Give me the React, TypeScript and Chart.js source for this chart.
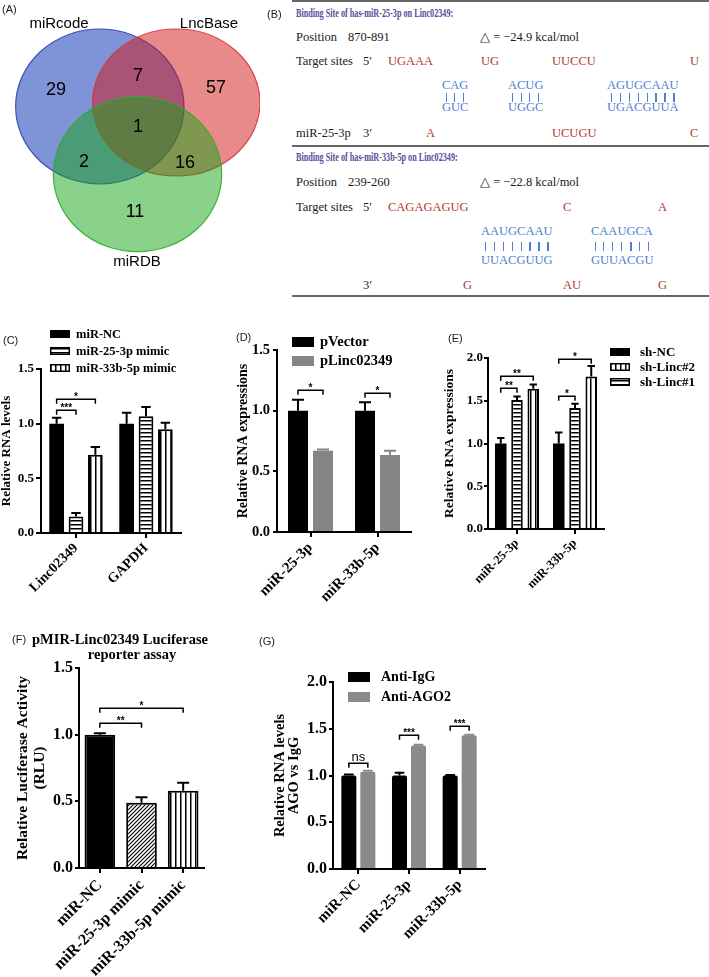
import React, { useEffect, useRef } from 'react';
import { Chart, registerables } from 'chart.js';
Chart.register(...registerables);

const SERIF = '"Liberation Serif", "Times New Roman", Times, serif';
const SANS = '"Liberation Sans", Arial, Helvetica, sans-serif';

// ---------- (A) Venn ----------
const vennSetNames = ['miRcode', 'LncBase', 'miRDB'];
const vennCenterX = [99.8, 176.3, 137.5];
const vennCenterY = [106.5, 102.5, 174.2];
const vennRadiusX = [84.2, 83.7, 84.2];
const vennRadiusY = [77.5, 73.5, 77.5];
const vennNameX = [59, 209, 137];
const vennNameY = [24, 24, 262];
const vennCounts = [29, 7, 57, 1, 2, 16, 11];
const vennCountX = [56, 138, 216, 138, 84, 185, 135];
const vennCountY = [90, 76, 88, 127, 162, 163, 212];

// ---------- (C) ----------
const cCategories = ['Linc02349', 'GAPDH'];
const cSeries = ['miR-NC', 'miR-25-3p mimic', 'miR-33b-5p mimic'];
const cNC = [1.0, 1.0];
const cNCErr = [0.055, 0.1];
const c25 = [0.152, 1.067];
const c25Err = [0.03, 0.085];
const c33 = [0.716, 0.948];
const c33Err = [0.07, 0.06];

// ---------- (D) ----------
const dCategories = ['miR-25-3p', 'miR-33b-5p'];
const dSeries = ['pVector', 'pLinc02349'];
const dVector = [1.0, 1.0];
const dVectorErr = [0.09, 0.07];
const dLinc = [0.67, 0.635];
const dLincErr = [0.01, 0.035];

// ---------- (E) ----------
const eCategories = ['miR-25-3p', 'miR-33b-5p'];
const eSeries = ['sh-NC', 'sh-Linc#1', 'sh-Linc#2'];
const eNC = [1.0, 1.0];
const eNCErr = [0.065, 0.13];
const eLinc1 = [1.51, 1.415];
const eLinc1Err = [0.04, 0.05];
const eLinc2 = [1.64, 1.785];
const eLinc2Err = [0.05, 0.12];

// ---------- (F) ----------
const fCategories = ['miR-NC', 'miR-25-3p mimic', 'miR-33b-5p mimic'];
const fValues = [1.0, 0.49, 0.58];
const fErr = [0.01, 0.04, 0.06];

// ---------- (G) ----------
const gCategories = ['miR-NC', 'miR-25-3p', 'miR-33b-5p'];
const gSeries = ['Anti-IgG', 'Anti-AGO2'];
const gIgG = [1.0, 1.0, 1.0];
const gIgGErr = [0.01, 0.03, 0.005];
const gAGO2 = [1.04, 1.32, 1.43];
const gAGO2Err = [0.01, 0.01, 0.005];

// significance brackets: [dataset, category] -> [dataset, category] at value y
const cBrackets = [
  { from: [0, 0], to: [2, 0], y: 1.225, label: '*' },
  { from: [0, 0], to: [1, 0], y: 1.124, label: '***' },
];
const dBrackets = [
  { from: [0, 0], to: [1, 0], y: 1.17, label: '*' },
  { from: [0, 1], to: [1, 1], y: 1.145, label: '*' },
];
const eBrackets = [
  { from: [0, 0], to: [2, 0], y: 1.79, label: '**' },
  { from: [0, 0], to: [1, 0], y: 1.654, label: '**' },
  { from: [0, 1], to: [2, 1], y: 1.99, label: '*' },
  { from: [0, 1], to: [1, 1], y: 1.56, label: '*' },
];
const fBrackets = [
  { from: [0, 0], to: [0, 2], y: 1.2, label: '*' },
  { from: [0, 0], to: [0, 1], y: 1.09, label: '**' },
];
const gBrackets = [
  { from: [0, 0], to: [1, 0], y: 1.134, label: 'ns' },
  { from: [0, 1], to: [1, 1], y: 1.43, label: '***' },
  { from: [0, 2], to: [1, 2], y: 1.53, label: '***' },
];

type DS = { label: string; data: number[]; errors: number[]; fill: string | string[]; border: number; errColor: string; radius?: number };
type Spec = {
  box: { x: number; y: number; w: number; h: number };
  area: { l: number; t: number; r: number; b: number };
  labels: string[];
  datasets: DS[];
  yMax: number; yStep: number;
  yTitle: string | string[]; yTitleSize: number; yTitleLH: number; yTitlePad: number;
  tickSize: number; tickLen: number; tickPad: number;
  xSize: number; xPad: number;
  catPct: number; barPct: number;
  brackets: { from: number[]; to: number[]; y: number; label: string }[];
  starSize: number;
  legend?: { x: number; y: number[]; w: number; h: number; gap: number; size: number; order: number[] };
};

const GRAY_D = '#858585';
const GRAY_G = '#8a8a8a';

const specC: Spec = {
  box: { x: 0, y: 320, w: 236, h: 300 },
  area: { l: 41, t: 369, r: 181, b: 533 },
  labels: cCategories,
  datasets: [
    { label: cSeries[0], data: cNC, errors: cNCErr, fill: 'black', border: 0, errColor: '#000' },
    { label: cSeries[1], data: c25, errors: c25Err, fill: 'hstripe', border: 2, errColor: '#000' },
    { label: cSeries[2], data: c33, errors: c33Err, fill: 'vstripe', border: 2, errColor: '#000' },
  ],
  yMax: 1.5, yStep: 0.5,
  yTitle: 'Relative RNA levels', yTitleSize: 13, yTitleLH: 1, yTitlePad: 0.5,
  tickSize: 13, tickLen: 5, tickPad: 2,
  xSize: 14, xPad: 2,
  catPct: 0.83, barPct: 0.76,
  brackets: cBrackets, starSize: 10,
  legend: { x: 50, y: [334, 351, 368], w: 20, h: 8, gap: 6, size: 12.5, order: [0, 1, 2] },
};

const specD: Spec = {
  box: { x: 236, y: 320, w: 230, h: 300 },
  area: { l: 277, t: 350, r: 411, b: 532 },
  labels: dCategories,
  datasets: [
    { label: dSeries[0], data: dVector, errors: dVectorErr, fill: 'black', border: 0, errColor: '#000' },
    { label: dSeries[1], data: dLinc, errors: dLincErr, fill: 'grayD', border: 0, errColor: GRAY_D },
  ],
  yMax: 1.5, yStep: 0.5,
  yTitle: 'Relative RNA expressions', yTitleSize: 14, yTitleLH: 1, yTitlePad: 0,
  tickSize: 14.5, tickLen: 4, tickPad: 3,
  xSize: 15, xPad: 2,
  catPct: 0.746, barPct: 0.8,
  brackets: dBrackets, starSize: 10,
  legend: { x: 292, y: [342, 361], w: 22, h: 10, gap: 6, size: 14.5, order: [0, 1] },
};

const specE: Spec = {
  box: { x: 440, y: 320, w: 269, h: 300 },
  area: { l: 488, t: 358, r: 604, b: 529 },
  labels: eCategories,
  datasets: [
    { label: eSeries[0], data: eNC, errors: eNCErr, fill: 'black', border: 0, errColor: '#000' },
    { label: eSeries[1], data: eLinc1, errors: eLinc1Err, fill: 'hstripe', border: 2, errColor: '#000' },
    { label: eSeries[2], data: eLinc2, errors: eLinc2Err, fill: 'vstripe', border: 2, errColor: '#000' },
  ],
  yMax: 2.0, yStep: 0.5,
  yTitle: 'Relative RNA expressions', yTitleSize: 13.5, yTitleLH: 1, yTitlePad: 3.25,
  tickSize: 13, tickLen: 4, tickPad: 1,
  xSize: 12.5, xPad: 2,
  catPct: 0.84, barPct: 0.71,
  brackets: eBrackets, starSize: 10,
  legend: { x: 610, y: [352, 367, 382], w: 20, h: 8, gap: 10, size: 13, order: [0, 2, 1] },
};

const specF: Spec = {
  box: { x: 0, y: 630, w: 290, h: 347 },
  area: { l: 79, t: 668, r: 204, b: 868 },
  labels: fCategories,
  datasets: [
    { label: 'Luciferase', data: fValues, errors: fErr, fill: ['black', 'diag', 'vstripe'], border: 2, errColor: '#000' },
  ],
  yMax: 1.5, yStep: 0.5,
  yTitle: ['Relative Luciferase Activity', '(RLU)'], yTitleSize: 15.5, yTitleLH: 1.1, yTitlePad: 14.5,
  tickSize: 16, tickLen: 4, tickPad: 2,
  xSize: 16, xPad: 3,
  catPct: 1.0, barPct: 0.735,
  brackets: fBrackets, starSize: 10,
};

const specG: Spec = {
  box: { x: 262, y: 630, w: 300, h: 347 },
  area: { l: 333, t: 682, r: 485, b: 869 },
  labels: gCategories,
  datasets: [
    { label: gSeries[0], data: gIgG, errors: gIgGErr, fill: 'black', border: 0, errColor: '#000', radius: 2 },
    { label: gSeries[1], data: gAGO2, errors: gAGO2Err, fill: 'grayG', border: 0, errColor: GRAY_G, radius: 2 },
  ],
  yMax: 2.0, yStep: 0.5,
  yTitle: ['Relative RNA levels', 'AGO vs IgG'], yTitleSize: 14.5, yTitleLH: 1, yTitlePad: 10.75,
  tickSize: 16, tickLen: 4, tickPad: 2,
  xSize: 15, xPad: 2,
  catPct: 0.75, barPct: 0.79,
  brackets: gBrackets, starSize: 10,
  legend: { x: 348, y: [677, 697], w: 22, h: 10, gap: 11, size: 14, order: [0, 1] },
};

const barSpecs = [specC, specD, specE, specF, specG];

function makePatterns(): Record<string, any> {
  const mk = (w: number, h: number, draw: (x: CanvasRenderingContext2D) => void) => {
    const c = document.createElement('canvas');
    c.width = w; c.height = h;
    const x = c.getContext('2d')!;
    x.fillStyle = '#fff'; x.fillRect(0, 0, w, h);
    x.fillStyle = '#000'; x.strokeStyle = '#000';
    draw(x);
    return x.createPattern(c, 'repeat');
  };
  return {
    black: '#000',
    grayD: GRAY_D,
    grayG: GRAY_G,
    hstripe: mk(4, 4, (x) => x.fillRect(0, 0, 4, 1.5)),
    vstripe: mk(5, 5, (x) => x.fillRect(0, 0, 1.5, 5)),
    diag: mk(4, 4, (x) => {
      x.lineWidth = 1.1;
      x.beginPath();
      x.moveTo(-1, 5); x.lineTo(5, -1);
      x.moveTo(-1, 1); x.lineTo(1, -1);
      x.moveTo(3, 5); x.lineTo(5, 3);
      x.stroke();
    }),
  };
}

function createBarChart(canvas: HTMLCanvasElement, s: Spec) {
  const pats = makePatterns();
  const fillOf = (k: string) => pats[k];
  const bx = s.box;
  const padTop = s.area.t - bx.y;
  const padRight = bx.x + bx.w - s.area.r;
  const yW = s.area.l - bx.x;
  const xH = bx.y + bx.h - s.area.b;
  const serifBold = (size: number, lh = 1.2) => ({ family: SERIF, weight: 'bold' as const, size, lineHeight: lh });

  const extras = {
    id: 'extras',
    afterDatasetsDraw(chart: any) {
      const ctx: CanvasRenderingContext2D = chart.ctx;
      const y = chart.scales.y;
      ctx.save();
      // error bars (upper only)
      s.datasets.forEach((ds, i) => {
        const meta = chart.getDatasetMeta(i);
        meta.data.forEach((el: any, j: number) => {
          const v = ds.data[j];
          const e = ds.errors[j];
          const py = y.getPixelForValue(v);
          const pt = y.getPixelForValue(v + e);
          const half = Math.min(6, el.width * 0.32);
          ctx.strokeStyle = ds.errColor;
          ctx.lineWidth = 2;
          ctx.beginPath();
          ctx.moveTo(el.x, py); ctx.lineTo(el.x, pt);
          ctx.moveTo(el.x - half, pt); ctx.lineTo(el.x + half, pt);
          ctx.stroke();
        });
      });
      // brackets
      s.brackets.forEach((b) => {
        const xa = chart.getDatasetMeta(b.from[0]).data[b.from[1]].x;
        const xb = chart.getDatasetMeta(b.to[0]).data[b.to[1]].x;
        const py = Math.round(y.getPixelForValue(b.y)) + 0.25;
        ctx.strokeStyle = '#000';
        ctx.lineWidth = 1.5;
        ctx.beginPath();
        ctx.moveTo(xa, py + 4.5); ctx.lineTo(xa, py); ctx.lineTo(xb, py); ctx.lineTo(xb, py + 4.5);
        ctx.stroke();
        ctx.fillStyle = '#000';
        ctx.textAlign = 'center';
        ctx.textBaseline = 'alphabetic';
        const mid = (xa + xb) / 2;
        if (b.label === 'ns') {
          ctx.font = `13px ${SANS}`;
          ctx.fillText(b.label, mid, py - 2.5);
        } else {
          ctx.font = `bold ${s.starSize}px ${SANS}`;
          ctx.fillText(b.label, mid, py + 1);
        }
      });
      // legend
      if (s.legend) {
        const L = s.legend;
        L.order.forEach((di, k) => {
          const ds = s.datasets[di];
          const lx = L.x - bx.x;
          const ly = L.y[k] - bx.y;
          const f = Array.isArray(ds.fill) ? ds.fill[0] : ds.fill;
          ctx.fillStyle = fillOf(f);
          ctx.fillRect(lx, ly - L.h / 2, L.w, L.h);
          if (ds.border) {
            ctx.strokeStyle = '#000';
            ctx.lineWidth = 1.5;
            ctx.strokeRect(lx + 0.75, ly - L.h / 2 + 0.75, L.w - 1.5, L.h - 1.5);
          }
          ctx.fillStyle = '#000';
          ctx.font = `bold ${L.size}px ${SERIF}`;
          ctx.textAlign = 'left';
          ctx.textBaseline = 'middle';
          ctx.fillText(ds.label, lx + L.w + L.gap, ly + 0.5);
        });
      }
      ctx.restore();
    },
  };

  const gridCfg = (len: number) => ({
    display: true, drawOnChartArea: false, drawTicks: true, tickLength: len,
    color: '#000', lineWidth: 2, tickColor: '#000', tickWidth: 2, offset: false,
  });

  return new Chart(canvas, {
    type: 'bar',
    data: {
      labels: s.labels,
      datasets: s.datasets.map((ds) => ({
        label: ds.label,
        data: ds.data,
        backgroundColor: Array.isArray(ds.fill) ? ds.fill.map(fillOf) : fillOf(ds.fill),
        borderColor: '#000',
        borderWidth: ds.border,
        borderSkipped: 'start',
        borderRadius: ds.radius ?? 0,
        categoryPercentage: s.catPct,
        barPercentage: s.barPct,
      })) as any,
    },
    options: {
      responsive: false,
      animation: false,
      devicePixelRatio: 1,
      events: [],
      layout: { padding: { top: padTop, right: padRight, left: 0, bottom: 0 } },
      plugins: { legend: { display: false }, tooltip: { enabled: false }, title: { display: false } },
      scales: {
        x: {
          type: 'category',
          offset: true,
          grid: gridCfg(5) as any,
          border: { display: true, color: '#000', width: 2 },
          ticks: { color: '#000', font: serifBold(s.xSize), minRotation: 45, maxRotation: 45, autoSkip: false, padding: s.xPad },
          afterFit: (sc: any) => { sc.height = xH; sc.paddingLeft = 0; sc.paddingRight = 0; },
        },
        y: {
          type: 'linear',
          min: 0,
          max: s.yMax,
          grid: gridCfg(s.tickLen) as any,
          border: { display: true, color: '#000', width: 2 },
          ticks: {
            stepSize: s.yStep, color: '#000', font: serifBold(s.tickSize), padding: s.tickPad,
            callback: (v: any) => Number(v).toFixed(1),
          },
          title: {
            display: true, text: s.yTitle as any, color: '#000',
            font: serifBold(s.yTitleSize, s.yTitleLH),
            padding: { top: s.yTitlePad, bottom: 0 },
          },
          afterFit: (sc: any) => { sc.width = yW; sc.paddingTop = 0; sc.paddingBottom = 0; },
        },
      },
    },
    plugins: [extras],
  });
}

function BarPanel({ spec }: { spec: Spec }) {
  const ref = useRef<HTMLCanvasElement>(null);
  useEffect(() => {
    const chart = createBarChart(ref.current!, spec);
    return () => chart.destroy();
  }, [spec]);
  return (
    <canvas
      ref={ref}
      width={spec.box.w}
      height={spec.box.h}
      style={{ position: 'absolute', left: spec.box.x, top: spec.box.y, width: spec.box.w, height: spec.box.h }}
    />
  );
}

function VennPanel() {
  const ref = useRef<HTMLCanvasElement>(null);
  useEffect(() => {
    const fills = ['rgba(0,40,175,0.5)', 'rgba(212,22,22,0.5)', 'rgba(22,165,22,0.5)'];
    const strokes = ['rgba(45,65,190,0.9)', 'rgba(215,50,60,0.9)', 'rgba(50,170,50,0.9)'];
    const venn = {
      id: 'venn',
      beforeDatasetsDraw(chart: any) {
        const { ctx, scales } = chart;
        const x = scales.x, y = scales.y;
        ctx.save();
        vennSetNames.forEach((_, i) => {
          const cx = x.getPixelForValue(vennCenterX[i]);
          const cy = y.getPixelForValue(vennCenterY[i]);
          const rx = Math.abs(x.getPixelForValue(vennCenterX[i] + vennRadiusX[i]) - cx);
          const ry = Math.abs(y.getPixelForValue(vennCenterY[i] + vennRadiusY[i]) - cy);
          ctx.beginPath();
          ctx.ellipse(cx, cy, rx, ry, 0, 0, Math.PI * 2);
          ctx.fillStyle = fills[i];
          ctx.fill();
          ctx.strokeStyle = strokes[i];
          ctx.lineWidth = 1.2;
          ctx.stroke();
        });
        ctx.fillStyle = '#000';
        ctx.textAlign = 'center';
        ctx.textBaseline = 'middle';
        ctx.font = `18px ${SANS}`;
        vennCounts.forEach((n, i) => {
          ctx.fillText(String(n), x.getPixelForValue(vennCountX[i]), y.getPixelForValue(vennCountY[i]));
        });
        ctx.font = `15px ${SANS}`;
        vennSetNames.forEach((nm, i) => {
          ctx.fillText(nm, x.getPixelForValue(vennNameX[i]), y.getPixelForValue(vennNameY[i]));
        });
        ctx.restore();
      },
    };
    const chart = new Chart(ref.current!, {
      type: 'scatter',
      data: { datasets: [{ data: vennCenterX.map((cx, i) => ({ x: cx, y: vennCenterY[i] })), pointRadius: 0 }] },
      options: {
        responsive: false, animation: false, devicePixelRatio: 1, events: [],
        layout: { padding: 0 },
        plugins: { legend: { display: false }, tooltip: { enabled: false } },
        scales: {
          x: { type: 'linear', min: 0, max: 260, display: false },
          y: { type: 'linear', min: 0, max: 290, reverse: true, display: false },
        },
      },
      plugins: [venn],
    });
    return () => chart.destroy();
  }, []);
  return <canvas ref={ref} width={260} height={290} style={{ position: 'absolute', left: 0, top: 0, width: 260, height: 290 }} />;
}

// ---------- (B) text panel ----------
const RED = '#b3392f';
const BLUE = '#4b80d2';
const PURPLE = '#5a4b9c';
const INK = '#1a1a1a';

let measureCtx: CanvasRenderingContext2D | null = null;
function measure(text: string, font: string) {
  if (!measureCtx) measureCtx = document.createElement('canvas').getContext('2d');
  measureCtx!.font = font;
  return measureCtx!.measureText(text).width;
}

function Txt(props: { x: number; y: number; color?: string; size?: number; bold?: boolean; family?: string; scaleX?: number; children: any }) {
  const { x, y, color = INK, size = 12.5, bold = false, family = SERIF, scaleX = 1, children } = props;
  return (
    <span
      style={{
        position: 'absolute', left: x, top: y,
        transform: `translateY(-50%) scaleX(${scaleX})`, transformOrigin: 'left center',
        lineHeight: 1, whiteSpace: 'pre', fontFamily: family, fontSize: size,
        fontWeight: bold ? 'bold' : 'normal', color,
      }}
    >
      {children}
    </span>
  );
}

function Rule({ y }: { y: number }) {
  return <div style={{ position: 'absolute', left: 292, top: y - 0.75, width: 417, height: 1.5, background: '#666' }} />;
}

function Pair({ x, yTop, yBar, yBot, top, bottom }: { x: number; yTop: number; yBar: number; yBot: number; top: string; bottom: string }) {
  const font = `12.5px ${SERIF}`;
  const centers: number[] = [];
  let acc = 0;
  for (const ch of top) {
    const w = measure(ch, font);
    centers.push(acc + w / 2);
    acc += w;
  }
  return (
    <>
      <Txt x={x} y={yTop} color={BLUE}>{top}</Txt>
      {centers.map((c, i) => (
        <div key={i} style={{ position: 'absolute', left: x + c - 0.6, top: yBar - 4.5, width: 1.2, height: 9, background: BLUE }} />
      ))}
      <Txt x={x} y={yBot} color={BLUE}>{bottom}</Txt>
    </>
  );
}

function PanelB() {
  return (
    <>
      <Rule y={0.75} />
      <Rule y={146} />
      <Rule y={296} />
      <Txt x={296} y={14} color={PURPLE} bold size={11.5} scaleX={0.71}>Binding Site of has-miR-25-3p on Linc02349:</Txt>
      <Txt x={296} y={37}>Position</Txt>
      <Txt x={348} y={37}>870-891</Txt>
      <Txt x={480} y={37}>△ = −24.9 kcal/mol</Txt>
      <Txt x={296} y={61}>Target sites</Txt>
      <Txt x={363} y={61}>5′</Txt>
      <Txt x={388} y={61} color={RED}>UGAAA</Txt>
      <Txt x={481} y={61} color={RED}>UG</Txt>
      <Txt x={552} y={61} color={RED}>UUCCU</Txt>
      <Txt x={690} y={61} color={RED}>U</Txt>
      <Pair x={442} yTop={85} yBar={97} yBot={107} top="CAG" bottom="GUC" />
      <Pair x={508} yTop={85} yBar={97} yBot={107} top="ACUG" bottom="UGGC" />
      <Pair x={607} yTop={85} yBar={97} yBot={107} top="AGUGCAAU" bottom="UGACGUUA" />
      <Txt x={296} y={133}>miR-25-3p</Txt>
      <Txt x={363} y={133}>3′</Txt>
      <Txt x={426} y={133} color={RED}>A</Txt>
      <Txt x={552} y={133} color={RED}>UCUGU</Txt>
      <Txt x={690} y={133} color={RED}>C</Txt>

      <Txt x={296} y={158} color={PURPLE} bold size={11.5} scaleX={0.71}>Binding Site of has-miR-33b-5p on Linc02349:</Txt>
      <Txt x={296} y={182}>Position</Txt>
      <Txt x={348} y={182}>239-260</Txt>
      <Txt x={480} y={182}>△ = −22.8 kcal/mol</Txt>
      <Txt x={296} y={207}>Target sites</Txt>
      <Txt x={363} y={207}>5′</Txt>
      <Txt x={388} y={207} color={RED}>CAGAGAGUG</Txt>
      <Txt x={563} y={207} color={RED}>C</Txt>
      <Txt x={658} y={207} color={RED}>A</Txt>
      <Pair x={481} yTop={231} yBar={246} yBot={260} top="AAUGCAAU" bottom="UUACGUUG" />
      <Pair x={591} yTop={231} yBar={246} yBot={260} top="CAAUGCA" bottom="GUUACGU" />
      <Txt x={363} y={285}>3′</Txt>
      <Txt x={463} y={285} color={RED}>G</Txt>
      <Txt x={563} y={285} color={RED}>AU</Txt>
      <Txt x={658} y={285} color={RED}>G</Txt>
    </>
  );
}

export default function App() {
  return (
    <div style={{ position: 'absolute', left: 0, top: 0, width: 709, height: 977, background: '#fff', overflow: 'hidden' }}>
      <VennPanel />
      <PanelB />
      {barSpecs.map((s, i) => (
        <BarPanel key={i} spec={s} />
      ))}
      <Txt x={2} y={9} family={SANS} size={11}>(A)</Txt>
      <Txt x={267} y={14} family={SANS} size={11}>(B)</Txt>
      <Txt x={3} y={340} family={SANS} size={11}>(C)</Txt>
      <Txt x={236} y={337} family={SANS} size={11}>(D)</Txt>
      <Txt x={448} y={338} family={SANS} size={11}>(E)</Txt>
      <Txt x={12} y={639} family={SANS} size={11}>(F)</Txt>
      <Txt x={259} y={641} family={SANS} size={11}>(G)</Txt>
      <div style={{ position: 'absolute', left: 20, width: 200, top: 639, transform: 'translateY(-50%)', textAlign: 'center', lineHeight: 1, fontFamily: SERIF, fontWeight: 'bold', fontSize: 14.5, color: '#000', whiteSpace: 'pre' }}>
        pMIR-Linc02349 Luciferase
      </div>
      <div style={{ position: 'absolute', left: 32, width: 200, top: 654, transform: 'translateY(-50%)', textAlign: 'center', lineHeight: 1, fontFamily: SERIF, fontWeight: 'bold', fontSize: 14.5, color: '#000', whiteSpace: 'pre' }}>
        reporter assay
      </div>
    </div>
  );
}
